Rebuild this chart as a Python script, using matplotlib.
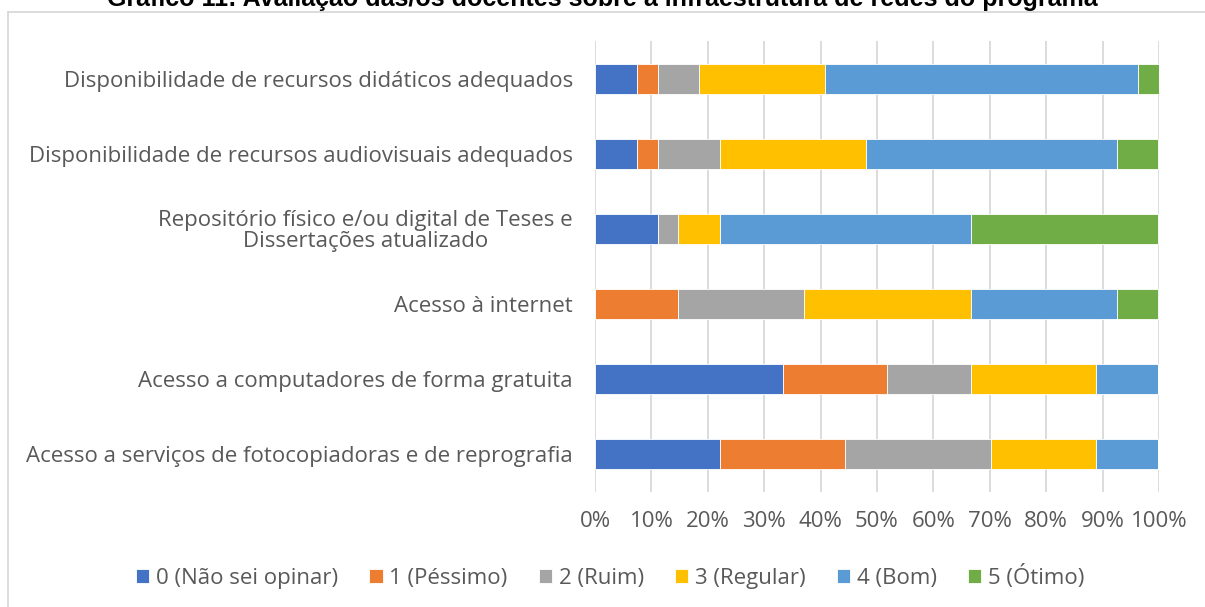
import matplotlib.pyplot as plt
from matplotlib.lines import Line2D
from matplotlib.ticker import PercentFormatter

# categories listed top to bottom as in the chart
categories = [
    'Disponibilidade de recursos didáticos adequados',
    'Disponibilidade de recursos audiovisuais adequados',
    'Repositório físico e/ou digital de Teses e\nDissertações atualizado',
    'Acesso à internet',
    'Acesso a computadores de forma gratuita',
    'Acesso a serviços de fotocopiadoras e de reprografia',
]
series_names = ['0 (Não sei opinar)', '1 (Péssimo)', '2 (Ruim)',
                '3 (Regular)', '4 (Bom)', '5 (Ótimo)']

# percentages per category (same order as categories)
nao_sei = [7.4, 7.4, 11.1, 0.0, 33.3, 22.2]
pessimo = [3.7, 3.7, 0.0, 14.8, 18.5, 22.2]
ruim = [7.4, 11.1, 3.7, 22.2, 14.8, 25.9]
regular = [22.2, 25.9, 7.4, 29.6, 22.2, 18.5]
bom = [55.6, 44.4, 44.4, 25.9, 11.1, 11.1]
otimo = [3.7, 7.4, 33.3, 7.4, 0.0, 0.0]

colors = ['#4472C4', '#ED7D31', '#A5A5A5', '#FFC000', '#5B9BD5', '#70AD47']
title = 'Gráfico 11: Avaliação das/os docentes sobre a infraestrutura de redes do programa'

plt.rcParams['font.family'] = ['Open Sans', 'DejaVu Sans']
txt = '#595959'
fs = 16

fig = plt.figure(figsize=(12.05, 6.07), dpi=100)
ax = fig.add_axes([595 / 1205, 1 - 492 / 607, 564 / 1205, 451 / 607])

ypos = list(range(len(categories)))[::-1]
left = [0.0] * len(categories)
for name, vals, c in zip(series_names, [nao_sei, pessimo, ruim, regular, bom, otimo], colors):
    ax.barh(ypos, vals, left=left, height=0.4, color=c, label=name,
            edgecolor='white', linewidth=0.6, zorder=3)
    left = [a + b for a, b in zip(left, vals)]

ax.set_xlim(0, 100)
ax.set_ylim(-0.5, 5.5)
ax.set_xticks(range(0, 101, 10))
ax.xaxis.set_major_formatter(PercentFormatter(decimals=0))
ax.set_yticks(ypos)
ax.set_yticklabels(categories, fontsize=fs, color=txt, ha='right', linespacing=1.0)
for lab in ax.get_yticklabels():
    lab.set_multialignment('center')
ax.tick_params(axis='x', labelsize=fs, colors=txt, length=0, pad=14)
ax.tick_params(axis='y', length=0, pad=16)
ax.grid(axis='x', color='#d9d9d9', linewidth=1.3, zorder=0)
for s in ax.spines.values():
    s.set_visible(False)

# chart area border (only left and top visible in the crop)
fig.add_artist(Line2D([8 / 1205, 8 / 1205], [0, 1 - 12 / 607], color='#d9d9d9', linewidth=1.3))
fig.add_artist(Line2D([8 / 1205, 1], [1 - 12 / 607, 1 - 12 / 607], color='#d9d9d9', linewidth=1.3))

fig.text(0.5, 1 - 6 / 607, title, ha='center', va='baseline', fontsize=18,
         fontweight='bold', family=['Liberation Sans', 'DejaVu Sans'], color='black')

fig.legend(loc='center', bbox_to_anchor=(610 / 1205, 1 - 577 / 607), ncol=6, frameon=False,
           fontsize=fs, labelcolor=txt, handlelength=0.6, handleheight=0.6,
           handletextpad=0.3, columnspacing=1.4)

fig.savefig('out.png', dpi=100)
